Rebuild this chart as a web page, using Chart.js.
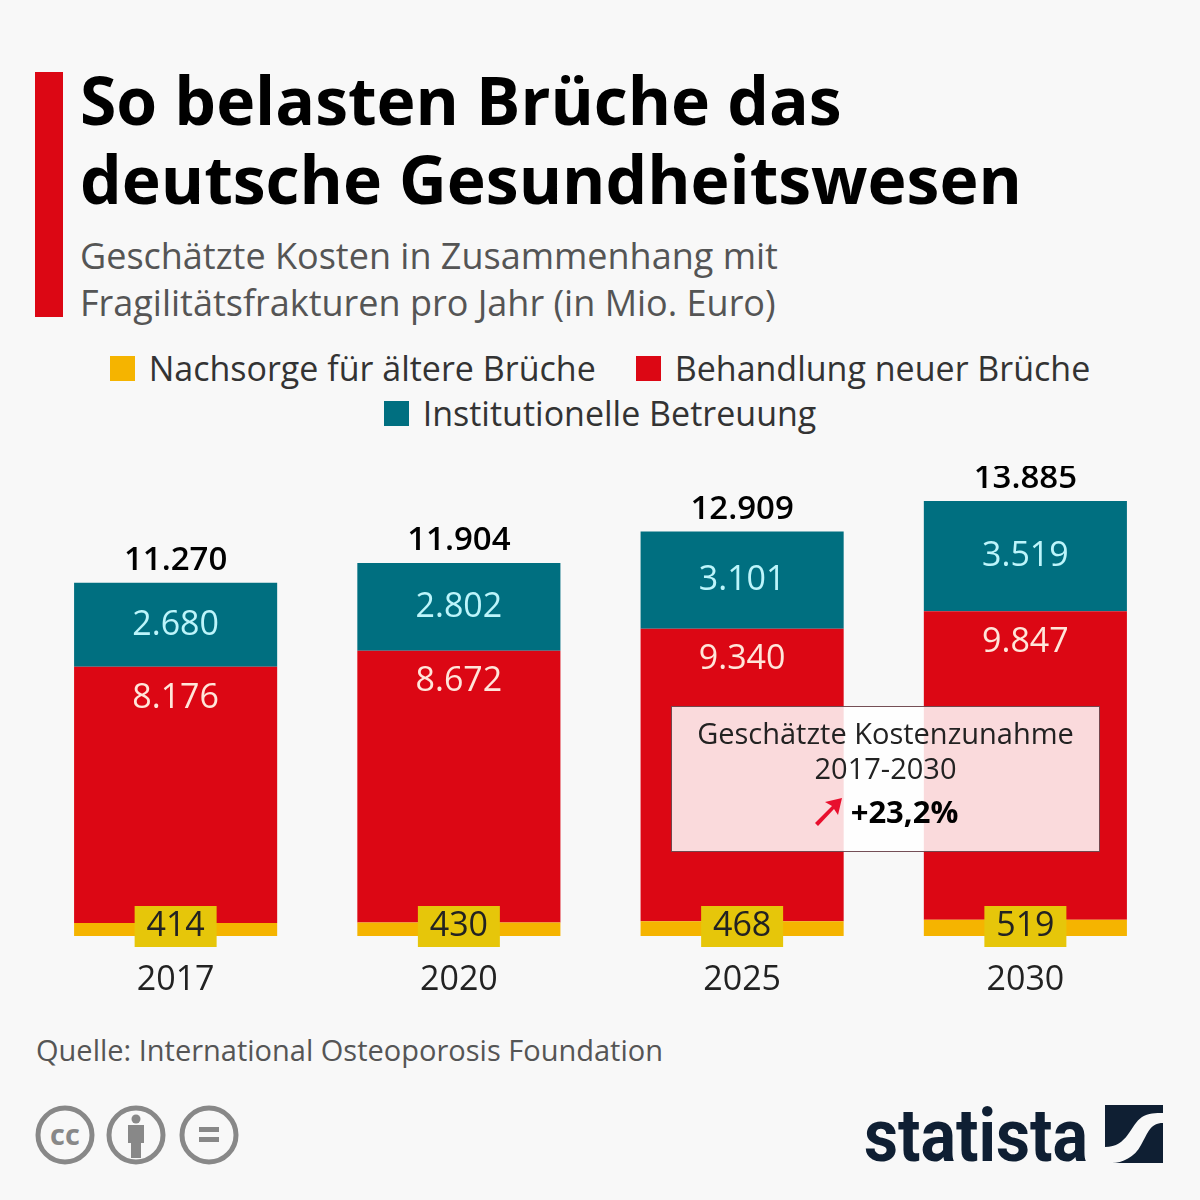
<!DOCTYPE html>
<html lang="de">
<head>
<meta charset="UTF-8">
<title>So belasten Brüche das deutsche Gesundheitswesen</title>
<script src="https://cdn.jsdelivr.net/npm/chart.js"></script>
<style>
    html, body { margin: 0; padding: 0; }
    body { width: 1200px; height: 1200px; position: relative; overflow: hidden; background: #f8f8f8; font-family: "Open Sans", sans-serif; }
    .abs { position: absolute; }
    #accent { left: 35px; top: 72px; width: 28px; height: 245px; background: #dc0714; }
    #title { left: 80px; top: 60px; margin: 0; font-size: 66px; line-height: 79px; font-weight: 700; color: #000; white-space: nowrap; }
    #subtitle { left: 80px; top: 232px; font-size: 36px; line-height: 47px; color: #555; white-space: nowrap; }
    #legend { left: 40px; top: 346px; width: 1120px; display: flex; flex-wrap: wrap; justify-content: center; font-size: 34px; line-height: 45px; color: #333; }
    #legend span.item { display: inline-flex; align-items: center; margin: 0 20px; white-space: nowrap; }
    #legend i { display: inline-block; width: 25px; height: 25px; margin-right: 14px; }
    #chartWrap { left: 34px; top: 466px; }
    #callout { left: 671px; top: 706px; width: 427px; height: 144px; background: rgba(255,255,255,0.85); border: 1px solid rgba(70,20,30,0.75); text-align: center; color: #222; font-size: 29px; line-height: 35px; padding-top: 8px; box-sizing: content-box; height: 136px; }
    #callout b { font-size: 31px; color: #000; display: inline-flex; align-items: center; margin-top: 9px; }
    #callout svg { margin-right: 8px; }
    #source { left: 36px; top: 1030px; font-size: 29px; line-height: 40px; color: #555; white-space: nowrap; }
</style>
</head>
<body>
<div id="accent" class="abs"></div>
<h1 id="title" class="abs">So belasten Brüche das<br>deutsche Gesundheitswesen</h1>
<div id="subtitle" class="abs">Geschätzte Kosten in Zusammenhang mit<br>Fragilitätsfrakturen pro Jahr (in Mio. Euro)</div>
<div id="legend" class="abs"></div>

<div id="chartWrap" class="abs"><canvas id="chart" width="1133" height="530"></canvas></div>

<div id="callout" class="abs">Geschätzte Kostenzunahme<br>2017-2030<br>
    <b><svg width="30" height="30" viewBox="0 0 30 30"><path d="M2 26 L19 9 L12 5 L29 1 L25 18 L21 12 L5 29 Z" fill="#e8102e"/></svg>+23,2%</b>
</div>

<div id="source" class="abs">Quelle: International Osteoporosis Foundation</div>

<!-- CC Icons -->
<svg class="abs" style="left:30px;top:1100px" width="220" height="72" viewBox="0 0 220 72">
    <g fill="none" stroke="#888" stroke-width="5">
        <circle cx="35" cy="35" r="27"/>
        <circle cx="106" cy="35" r="27"/>
        <circle cx="179" cy="35" r="27"/>
    </g>
    <text x="35" y="45" text-anchor="middle" font-family="Open Sans" font-weight="700" font-size="29" fill="#888">cc</text>
    <g fill="#888">
        <circle cx="106" cy="19" r="4.5"/>
        <rect x="98" y="25" width="16" height="18"/>
        <rect x="101" y="43" width="10" height="15"/>
        <rect x="169" y="27" width="20" height="5"/>
        <rect x="169" y="37" width="20" height="5"/>
    </g>
</svg>

<!-- Statista Logo -->
<svg class="abs" style="left:860px;top:1095px" width="310" height="80" viewBox="0 0 310 80">
    <text x="4" y="66" font-family="Liberation Sans Narrow, Roboto" font-weight="700" font-size="74" textLength="224" lengthAdjust="spacingAndGlyphs" fill="#0f1f33">statista</text>
    <rect x="245" y="10" width="58" height="58" fill="#0f1f33"/>
    <path d="M245 68 L245 52 C268 52 270 30 282 22 C288 18 296 18 303 18 L303 28 C290 28 288 38 281 50 C275 62 262 68 252 68 Z" fill="#f8f8f8"/>
</svg>

<script>
    const years = ['2017', '2020', '2025', '2030'];
    const seriesNames = ['Nachsorge für ältere Brüche', 'Behandlung neuer Brüche', 'Institutionelle Betreuung'];
    const aftercare = [414, 430, 468, 519];
    const newFractures = [8176, 8672, 9340, 9847];
    const institutional = [2680, 2802, 3101, 3519];
    const totals = [11270, 11904, 12909, 13885];
    const seriesColors = ['#f5b400', '#dc0714', '#006f80'];

    // Legende als HTML, damit die Zeilen wie im Original umbrechen
    const legendEl = document.getElementById('legend');
    seriesNames.forEach((name, i) => {
        const item = document.createElement('span');
        item.className = 'item';
        const box = document.createElement('i');
        box.style.background = seriesColors[i];
        item.appendChild(box);
        item.appendChild(document.createTextNode(name));
        legendEl.appendChild(item);
    });

    const fmt = v => v.toLocaleString('de-DE');

    // Werte direkt auf die Balken schreiben
    const valueLabels = {
        id: 'valueLabels',
        afterDatasetsDraw(chart) {
            const ctx = chart.ctx;
            ctx.save();
            ctx.textAlign = 'center';
            ctx.textBaseline = 'middle';
            ctx.font = '34px "Open Sans"';
            const base = chart.getDatasetMeta(0).data;
            const red = chart.getDatasetMeta(1).data;
            const teal = chart.getDatasetMeta(2).data;
            years.forEach((y, i) => {
                const x = base[i].x;
                // unterer Wert mit gelbem Kasten
                const yBottom = chart.scales.y.getPixelForValue(0);
                ctx.fillStyle = '#e6c60a';
                ctx.fillRect(x - 41, yBottom - 30, 82, 41);
                ctx.fillStyle = '#222';
                ctx.fillText(fmt(aftercare[i]), x, yBottom - 10);
                ctx.fillStyle = '#ffe6da';
                ctx.fillText(fmt(newFractures[i]), x, red[i].y + 31);
                ctx.fillStyle = '#bdf5fb';
                ctx.fillText(fmt(institutional[i]), x, (teal[i].y + teal[i].base) / 2);
                ctx.fillStyle = '#000';
                ctx.font = '600 33px "Open Sans"';
                ctx.fillText(fmt(totals[i]), x, teal[i].y - 22);
                ctx.font = '34px "Open Sans"';
            });
            ctx.restore();
        }
    };

    new Chart(document.getElementById('chart'), {
        type: 'bar',
        data: {
            labels: years,
            datasets: [aftercare, newFractures, institutional].map((values, i) => ({
                label: seriesNames[i],
                data: values,
                backgroundColor: seriesColors[i],
                barPercentage: 0.717,
                categoryPercentage: 1
            }))
        },
        options: {
            responsive: false,
            animation: false,
            layout: { padding: 0 },
            plugins: { legend: { display: false }, tooltip: { enabled: false } },
            scales: {
                x: {
                    stacked: true,
                    grid: { display: false },
                    border: { display: false },
                    afterFit: scale => { scale.height = 60; },
                    ticks: { color: '#222', font: { family: 'Open Sans', size: 34 }, padding: 16, maxRotation: 0 }
                },
                y: { stacked: true, display: false, min: 0, max: 15000 }
            }
        },
        plugins: [valueLabels]
    });
</script>
</body>
</html>
